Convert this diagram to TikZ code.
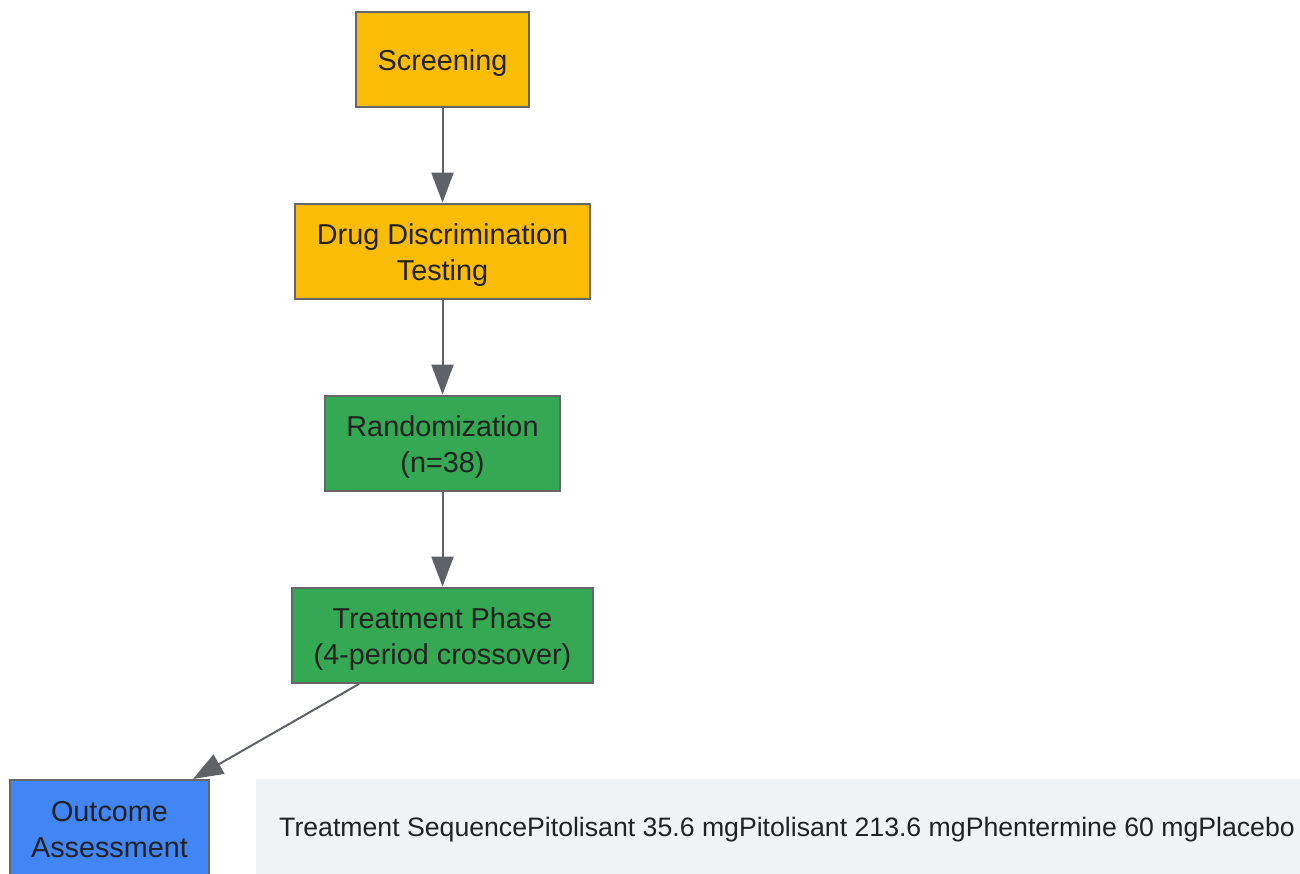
\documentclass[tikz,border=0pt]{standalone}
\usepackage{fontspec}
\setmainfont{Liberation Sans}
\usetikzlibrary{arrows.meta}
\definecolor{yel}{HTML}{FBBC05}
\definecolor{grn}{HTML}{34A853}
\definecolor{blu}{HTML}{4285F4}
\definecolor{edge}{HTML}{666666}
\definecolor{arr}{HTML}{5F6368}
\definecolor{txt}{HTML}{222222}
\definecolor{note}{HTML}{F1F2F4}
\begin{document}
\begin{tikzpicture}[x=1pt,y=-1pt,
  box/.style={draw=edge,line width=2.6pt,inner sep=0pt,minimum height=95pt},
  lab/.style={align=center,text=txt,font=\fontsize{28.8}{36}\selectfont,inner sep=0pt,yshift=-4pt},
  conn/.style={draw=arr,line width=2pt,-{Triangle[length=30pt,width=22pt]}}]
\useasboundingbox (0,0) rectangle (1300,873);
\clip (0,0) rectangle (1300,873);
\node[box,fill=yel,minimum width=173pt,label={[lab]center:Screening}] (scr) at (442.5,59.5) {};
\node[box,fill=yel,minimum width=295pt,label={[lab]center:{Drug Discrimination\\Testing}}] (ddt) at (442.5,251.5) {};
\node[box,fill=grn,minimum width=235pt,label={[lab]center:{Randomization\\(n=38)}}] (ran) at (442.5,443.5) {};
\node[box,fill=grn,minimum width=301pt,label={[lab]center:{Treatment Phase\\(4-period crossover)}}] (trt) at (442.5,635.5) {};
\node[box,fill=blu,minimum width=199pt,label={[lab,yshift=2pt]center:{Outcome\\Assessment}}] (out) at (109.5,827.5) {};
\node[fill=note,minimum width=1060pt,minimum height=100pt,inner sep=0pt,anchor=north west] (seq) at (256,779) {};
\node[text=txt,font=\fontsize{26.66}{32}\selectfont,anchor=west,inner sep=0pt] (seqt) at (279,830) {Treatment SequencePitolisant 35.6 mgPitolisant 213.6 mgPhentermine 60 mgPlacebo};
\draw[conn] (scr.south) -- (ddt.north);
\draw[conn] (ddt.south) -- (ran.north);
\draw[conn] (ran.south) -- (trt.north);
\coordinate (s1) at (359,684);
\coordinate (e1) at (193,779);
\draw[conn] (s1) -- (e1);
\end{tikzpicture}
\end{document}
